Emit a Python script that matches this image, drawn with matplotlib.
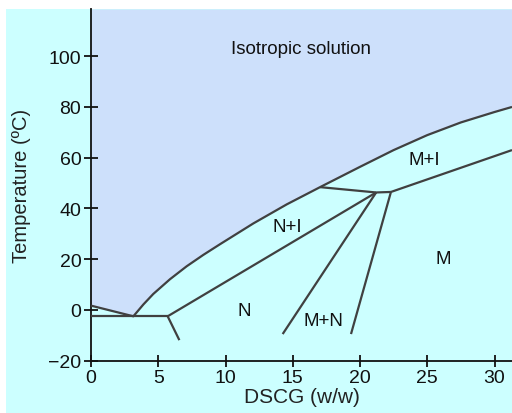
import matplotlib
matplotlib.use("Agg")
import matplotlib.pyplot as plt
from matplotlib.patches import Rectangle

plt.rcParams['font.family'] = ['Liberation Sans', 'DejaVu Sans']

# Phase boundaries of the DSCG / water system (w/w %, temperature in degC)
liquidus_x = [0.0, 3.15, 3.9, 4.63, 5.87, 7.11, 8.35, 9.59, 12.07, 14.55, 17.03,
              20.0, 22.5, 25.0, 27.5, 30.0, 31.3]
liquidus_y = [1.7, -2.5, 2.2, 6.3, 12.1, 17.2, 21.7, 25.9, 34.1, 41.6, 48.4,
              56.4, 63.0, 68.9, 73.9, 78.0, 80.0]

eutectic_x = [0.0, 5.7]
eutectic_y = [-2.5, -2.5]

nematic_tail_x = [5.7, 6.57]
nematic_tail_y = [-2.5, -11.9]

nematic_upper_x = [5.7, 21.2]
nematic_upper_y = [-2.5, 46.3]

tie_line_x = [17.03, 21.2, 22.3]
tie_line_y = [48.4, 46.3, 46.5]

mi_lower_x = [22.3, 31.3]
mi_lower_y = [46.5, 63.0]

mn_left_x = [21.2, 14.25]
mn_left_y = [46.3, -9.5]

mn_right_x = [22.3, 19.33]
mn_right_y = [46.5, -9.5]

region_labels = ["Isotropic solution", "M+I", "N+I", "N", "M+N", "M"]
region_x = [15.6, 24.8, 14.6, 11.4, 17.25, 26.2]
region_y = [102.9, 59.4, 33.0, -0.1, -4.0, 20.4]

xticks = [0, 5, 10, 15, 20, 25, 30]
yticks = [-20, 0, 20, 40, 60, 80, 100]

CYAN = '#ccffff'
LAVENDER = '#cde0fb'
LINE = '#404040'

fig = plt.figure(figsize=(5.12, 4.14), dpi=100)
fig.patch.set_facecolor('white')
fig.patches.append(Rectangle((6 / 512, 0), 1 - 6 / 512, (414 - 10) / 414,
                             transform=fig.transFigure, facecolor=CYAN,
                             edgecolor='none', zorder=-10))

ax = fig.add_axes([91 / 512, (414 - 361.7) / 414, (512 - 91) / 512, (361.7 - 10) / 414])
ax.patch.set_alpha(0)

xmax, ymin, ymax = 31.3, -20, 118.6
ax.set_xlim(0, xmax)
ax.set_ylim(ymin, ymax)

# isotropic region above the liquidus
ax.fill_between(liquidus_x, liquidus_y, ymax, color=LAVENDER, lw=0, zorder=1)

lw = 1.6
for xs, ys in [(liquidus_x, liquidus_y), (eutectic_x, eutectic_y),
               (nematic_tail_x, nematic_tail_y), (nematic_upper_x, nematic_upper_y),
               (tie_line_x, tie_line_y), (mi_lower_x, mi_lower_y),
               (mn_left_x, mn_left_y), (mn_right_x, mn_right_y)]:
    ax.plot(xs, ys, color=LINE, lw=lw, solid_capstyle='butt',
            solid_joinstyle='round', zorder=3, clip_on=False)

for label, x, y in zip(region_labels, region_x, region_y):
    ax.text(x, y, label, ha='center', va='center', fontsize=13.5, color='#111111', zorder=4)

for side in ['top', 'right']:
    ax.spines[side].set_visible(False)
for side in ['left', 'bottom']:
    ax.spines[side].set_linewidth(1.3)
    ax.spines[side].set_color('#111111')

ax.set_xticks(xticks)
ax.set_yticks(yticks)
ax.tick_params(axis='x', direction='inout', length=8, width=1.3, labelsize=14,
               pad=2, colors='#111111')
ax.tick_params(axis='y', direction='inout', length=10, width=1.3, labelsize=14,
               pad=2, colors='#111111')

ax.set_xlabel('DSCG (w/w)', fontsize=15, color='#222222', labelpad=1)
ax.set_ylabel('Temperature (ºC)', fontsize=14.5, color='#222222', labelpad=12)

fig.savefig('out.png', dpi=100)
